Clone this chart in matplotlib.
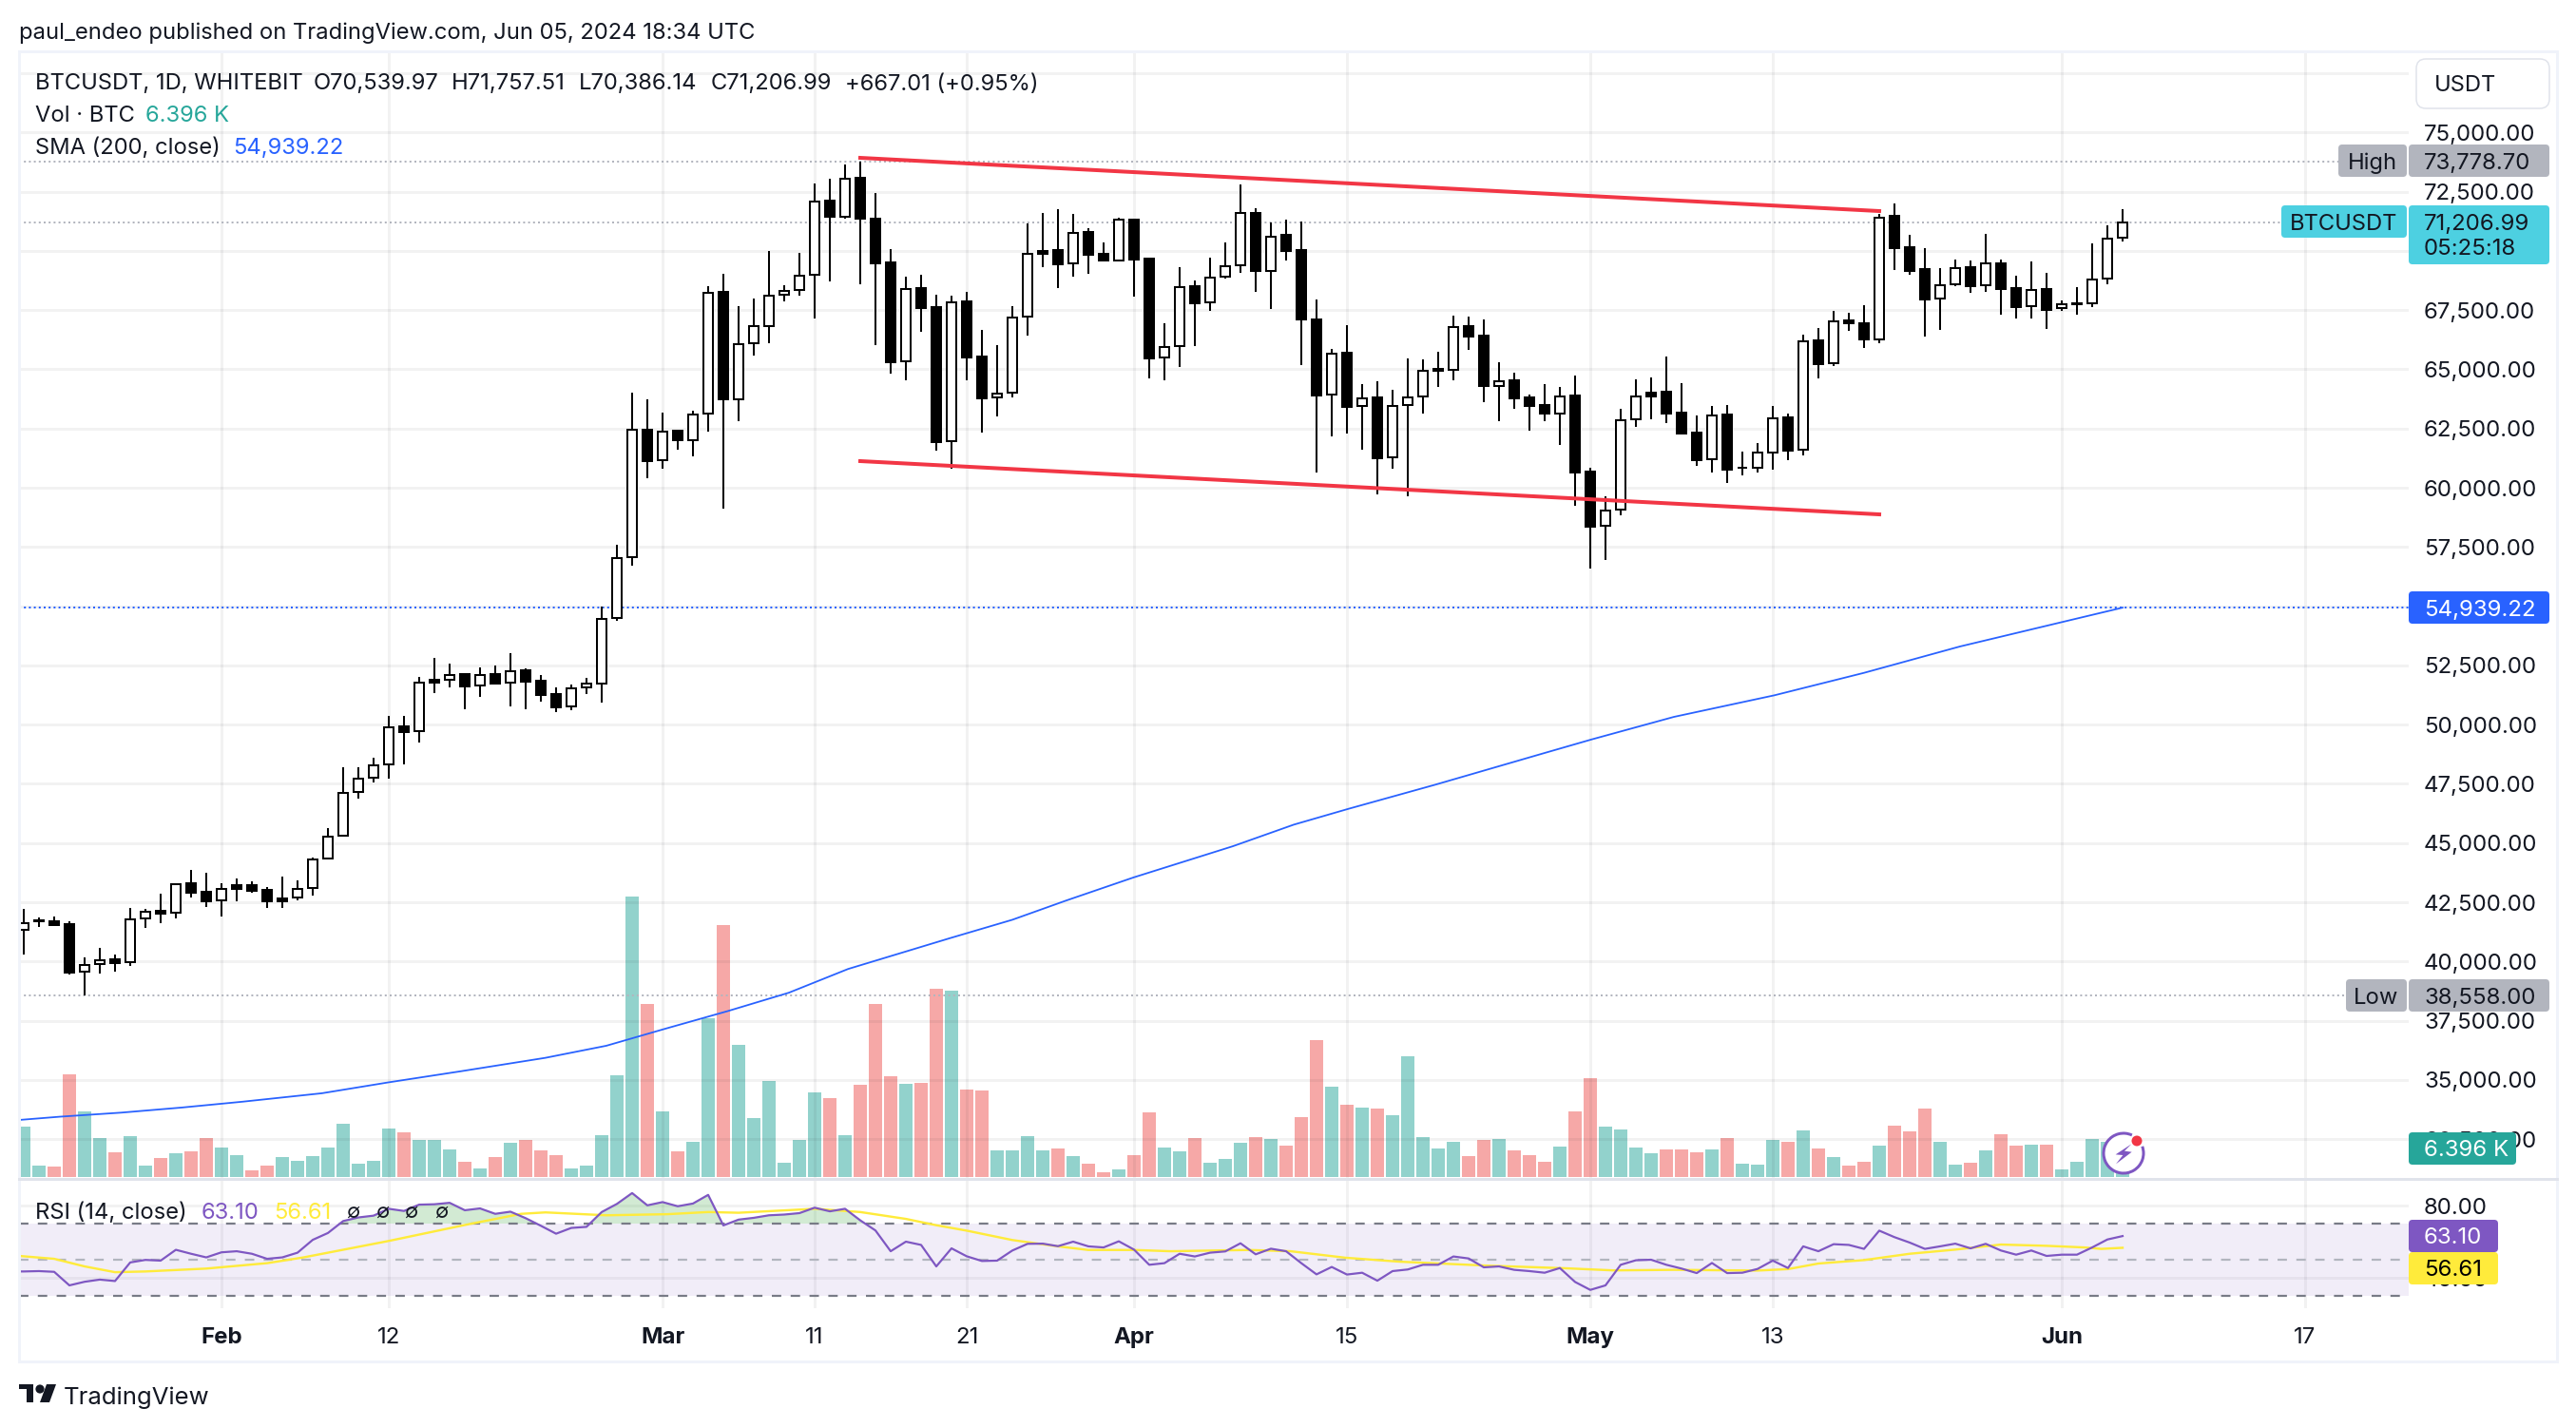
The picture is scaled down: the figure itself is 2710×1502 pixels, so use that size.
import numpy as np
import matplotlib
matplotlib.use('Agg')
import matplotlib.pyplot as plt
from matplotlib.patches import FancyBboxPatch, Rectangle, Circle, Polygon, Arc

plt.rcParams['font.family'] = ['Inter', 'DejaVu Sans']

# OHLC, one value per day starting Jan 19 2024
open_ = [41323, 41724, 41684, 41564, 39557, 39878, 40078, 39958, 41804, 42125,
         42045, 43290, 42928, 42567, 43209, 43209, 43009, 42674, 42687, 43102,
         44333, 45310, 47156, 47745, 48307, 49913, 49712, 51880, 51880, 52120,
         51639, 52120, 51759, 52281, 51839, 51277, 50756, 51558, 51732, 54502,
         57065, 62438, 61160, 62405, 61996, 63126, 68253, 63716, 66091, 66806,
         68131, 68345, 68987, 72105, 71449, 73068, 71369, 69496, 65321, 68412,
         67609, 61963, 67850, 65522, 63796, 63996, 67208, 69977, 70017, 69455,
         70780, 69857, 69576, 71302, 69656, 65495, 65963, 68492, 67810, 68907,
         69389, 71610, 69134, 70660, 70017, 67114, 63916, 65682, 63434, 63796,
         61267, 63488, 63836, 65000, 64960, 66806, 66405, 64277, 64518, 63796,
         63475, 63113, 63876, 60665, 58377, 59059, 62872, 63996, 64037, 63153,
         62311, 61187, 63073, 60852, 60825, 61481, 62953, 61588, 66204, 65241,
         67047, 66927, 66271, 71462, 70138, 69215, 67970, 68572, 69295, 68532,
         69455, 68412, 67649, 68372, 67569, 67796, 67770, 68813, 70539.97]
close = [41630, 41684, 41550, 39543, 39864, 40065, 39945, 41791, 42112, 42032,
         43276, 42915, 42554, 43075, 43075, 42995, 42554, 42554, 43075, 44320,
         45283, 47116, 47732, 48294, 49899, 49699, 51786, 51786, 52107, 51625,
         52107, 51746, 52268, 51826, 51264, 50742, 51545, 51719, 54475, 57033,
         62438, 61144, 62372, 61996, 63093, 68236, 63716, 66074, 66828, 68117,
         68318, 68947, 72091, 71449, 73055, 71369, 69482, 65308, 68398, 67596,
         61936, 67823, 65508, 63782, 63983, 67194, 69884, 69884, 69442, 70767,
         69843, 69589, 71302, 69643, 65468, 65936, 68479, 67796, 68880, 69348,
         71596, 69161, 70606, 70004, 67114, 63903, 65669, 63421, 63782, 61253,
         63461, 63822, 64946, 64946, 66793, 66391, 64304, 64505, 63782, 63461,
         63113, 63863, 60651, 58363, 59046, 62859, 63863, 63863, 63140, 62297,
         61173, 63060, 60772, 60825, 61481, 62939, 61575, 66191, 65227, 67034,
         66927, 66271, 71409, 70124, 69161, 67957, 68559, 69281, 68519, 69455,
         68398, 67636, 68358, 67515, 67756, 67756, 68800, 70526, 71206.99]
high = [42219, 41858, 41898, 41684, 40172, 40573, 40292, 42259, 42219, 42861,
        43290, 43865, 43744, 43290, 43504, 43383, 43142, 43584, 43423, 44387,
        45631, 48200, 48200, 48601, 50368, 50368, 52013, 52816, 52575, 52160,
        52415, 52495, 53017, 52375, 52094, 51572, 51692, 51973, 54970, 57573,
        64010, 63716, 63175, 62438, 63257, 68499, 69023, 67647, 67974, 69991,
        68546, 69910, 72827, 73028, 73643, 73779, 72426, 70058, 68907, 68987,
        68144, 68091, 68251, 66646, 66017, 67663, 71141, 71596, 71757, 71556,
        70954, 70339, 71382, 71329, 69696, 66940, 69308, 68733, 69710, 70352,
        72787, 71784, 71195, 71302, 71222, 67930, 65843, 66860, 64358, 64478,
        64117, 65441, 65401, 65736, 67261, 67221, 67101, 65294, 64853, 63916,
        64358, 64237, 64732, 60839, 59621, 63327, 64572, 64652, 65535, 64411,
        63033, 63461, 63488, 61521, 61882, 63448, 63127, 66458, 66726, 67462,
        67382, 67689, 71556, 71998, 70673, 70111, 69268, 69629, 69589, 70713,
        69629, 68947, 69549, 69067, 67903, 68465, 70312, 71074, 71757.51]
low = [40292, 41470, 41510, 39463, 38558, 39490, 39583, 39824, 41416, 41617,
       41818, 42701, 42299, 41898, 42540, 42902, 42259, 42259, 42594, 42781,
       44333, 45297, 46875, 47558, 47718, 48320, 49244, 51331, 51572, 50649,
       51170, 51692, 50769, 50649, 50970, 50528, 50608, 51291, 50930, 54400,
       56705, 60407, 60800, 61586, 61324, 62372, 59129, 62815, 65583, 66110,
       67877, 68117, 67141, 68720, 71355, 68599, 66030, 64826, 64532, 66579,
       61561, 60812, 64532, 62337, 63006, 63809, 66432, 69322, 68439, 68920,
       69027, 69549, 69576, 68064, 64612, 64532, 65094, 65977, 67475, 68840,
       69067, 68278, 67542, 69589, 65174, 60651, 62163, 62284, 61615, 59715,
       60812, 59635, 63127, 64237, 64532, 65816, 63608, 62806, 63327, 62404,
       62806, 61802, 59233, 56597, 56959, 58832, 62565, 62886, 62725, 62297,
       60919, 60638, 60210, 60518, 60638, 60758, 61160, 61361, 64612, 65134,
       66619, 65896, 66097, 69188, 68987, 66378, 66659, 68505, 68224, 68278,
       67301, 67141, 67141, 66699, 67462, 67301, 67622, 68586, 70386.14]

# volume in thousands of BTC
volume = [11.1, 2.6, 2.2, 22.5, 14.3, 8.5, 5.4, 9.0, 2.5, 4.2,
          5.2, 5.6, 8.5, 6.4, 4.8, 1.4, 2.5, 4.3, 3.5, 4.6,
          6.4, 11.6, 2.9, 3.5, 10.6, 9.8, 8.1, 8.1, 6.0, 3.3,
          1.8, 4.3, 7.5, 8.1, 5.9, 4.8, 1.8, 2.5, 9.1, 22.3,
          61.5, 38.0, 14.3, 5.6, 7.7, 34.7, 55.3, 29.0, 12.9, 21.1,
          3.1, 8.1, 18.5, 17.3, 9.1, 20.2, 38.0, 22.1, 20.4, 20.6,
          41.3, 40.9, 19.2, 19.0, 5.8, 5.8, 9.0, 5.8, 6.25, 4.6,
          2.9, 1.0, 1.7, 4.8, 14.2, 6.5, 5.6, 8.5, 3.1, 4.0,
          7.5, 8.75, 8.3, 6.9, 13.1, 30.0, 19.8, 15.8, 15.2, 15.0,
          13.5, 26.5, 8.75, 6.25, 7.7, 4.6, 8.1, 8.3, 5.8, 4.8,
          3.3, 6.7, 14.4, 21.7, 11.0, 10.4, 6.5, 5.2, 6.0, 6.0,
          5.4, 6.0, 8.5, 2.9, 2.7, 8.1, 7.7, 10.2, 6.25, 4.4,
          2.5, 3.3, 6.9, 11.25, 10.0, 15.0, 7.7, 2.7, 3.1, 5.8,
          9.4, 6.9, 7.1, 7.1, 1.7, 3.3, 8.3, 7.7, 6.396]
volume_dir = ("ggrrggrggr" "grrggrrggg" "gggggrgggr" "grgrrrgggg" "grgrggrggg"
              "gggrgrrrgr" "rgrrggggrg" "rrgrrggrgg" "grgrrrgrgr" "gggggrrgrr"
              "rgrrggggrr" "rgrgggrgrg" "rrgrrrggrg" "rrgrggggg")

rsi_prev = 43.5
rsi = [43.5, 43.7, 43.3, 35.8, 37.8, 39.0, 38.2, 48.5, 49.9, 49.5,
       55.5, 53.3, 51.3, 54.1, 54.7, 53.3, 50.5, 51.3, 53.9, 61.0,
       64.8, 71.4, 73.4, 74.4, 78.2, 77.0, 80.5, 80.7, 81.5, 77.4,
       78.4, 75.4, 76.6, 73.0, 68.8, 64.4, 67.6, 68.2, 76.4, 80.9,
       86.9, 80.1, 81.9, 79.6, 81.1, 85.9, 69.0, 72.2, 73.2, 74.6,
       75.0, 75.8, 78.8, 76.8, 78.2, 71.8, 66.2, 54.7, 60.0, 58.2,
       46.3, 56.3, 51.9, 49.3, 49.5, 55.1, 58.8, 58.9, 57.5, 60.0,
       57.4, 56.8, 60.2, 55.6, 47.2, 48.1, 53.3, 51.8, 53.9, 54.6,
       59.1, 53.0, 56.1, 54.7, 48.1, 41.9, 46.0, 41.8, 42.8, 38.4,
       43.7, 44.6, 47.2, 47.2, 51.8, 50.7, 45.8, 46.3, 44.4, 43.7,
       42.8, 45.4, 37.7, 33.3, 35.8, 47.2, 49.7, 50.0, 47.2, 45.1,
       42.6, 48.2, 42.6, 42.8, 44.9, 49.5, 45.4, 57.4, 54.7, 58.6,
       58.2, 56.0, 66.1, 62.5, 59.5, 56.0, 57.4, 58.9, 56.3, 58.8,
       55.1, 52.8, 55.1, 52.1, 52.8, 52.8, 56.8, 61.2, 63.10]

rsi_ma_days = [-0.31, 2, 4, 6, 8, 12, 16, 18.4, 24, 29.1, 32.7, 34.3, 38.3, 42.3, 45, 47,
               52, 55, 58, 60, 62, 65, 68, 70, 73, 75.4, 80.5, 83.3, 86.9, 90.5,
               96.3, 101.3, 104.5, 108.5, 114, 116, 118, 121, 124, 127, 130, 133,
               135.5, 136.6, 138]
rsi_ma = [52.1, 50.5, 46.3, 43.1, 43.5, 45.1, 48.1, 51.3, 60.4, 69.4, 75.4, 76.2, 74.6, 75.2, 76.4, 76.0,
          78.2, 76.4, 72.6, 69.1, 66.1, 60.9, 57.4, 55.4, 55.4, 54.7, 55.4, 54.7, 51.1, 48.9,
          46.7, 45.3, 44.1, 44.4, 44.0, 44.8, 47.9, 49.8, 53.3, 55.6, 58.4, 57.7,
          56.8, 56.0, 56.61]

sma_days = [-0.31, 2.4, 6.4, 10.4, 14.4, 19.6, 24, 28.7, 34.3, 38.3, 42.3, 46.3, 50.3, 54.2,
            60.9, 65, 68.5, 73, 79.5, 83.5, 87.1, 92.8, 99.7, 103.1, 108.5, 115.1, 121,
            127.3, 134.1, 138]
sma = [33314, 33453, 33623, 33839, 34086, 34441, 34903, 35366, 35937, 36446, 37187, 37912, 38684, 39687,
       40988, 41764, 42567, 43557, 44868, 45778, 46447, 47464, 48749, 49378, 50328, 51238, 52187,
       53298, 54342, 54939.22]

upper_days = [55, 122]
upper_line = [73925, 71678]
lower_days = [55, 122]
lower_line = [61124, 58876]

price_ticks = [32500 + 2500 * k for k in range(18)]
grid_top = 77500
rsi_ticks = [40, 80]
tick_days = [13, 24, 42, 52, 62, 73, 87, 103, 115, 134, 150]
tick_names = ['Feb', '12', 'Mar', '11', '21', 'Apr', '15', 'May', '13', 'Jun', '17']
months = ['Feb', 'Mar', 'Apr', 'May', 'Jun']

W, H = 2710, 1502
PX = 72 / 100  # one pixel in points
TXT = 17.1
DARK = '#131722'
GRID = '#131722'

fig = plt.figure(figsize=(W / 100, H / 100), dpi=100, facecolor='white')


def pane(l, t, r, b, z):
    return fig.add_axes([l / W, 1 - b / H, (r - l) / W, (b - t) / H], zorder=z)


days = np.arange(len(close))
xlim = (-0.3125, 156.8125)

# volume sits behind the price pane
ax_vol = pane(20, 54, 2534, 1239, 1)
bar_cols = ['#26A69A' if d == 'g' else '#EF5350' for d in volume_dir]
ax_vol.bar(days, volume, width=0.86, color=bar_cols, alpha=0.5, linewidth=0)
ax_vol.set_xlim(xlim)
ax_vol.set_ylim(-0.2, 246.7)
ax_vol.axis('off')

# price pane
ax = pane(20, 54, 2534, 1239, 2)
ax.patch.set_visible(False)
ax.set_xlim(xlim)
ax.set_ylim(30866, 78420)
ax.set_yticks(price_ticks + [grid_top])
ax.set_yticklabels([f'{p:,.2f}' for p in price_ticks] + [''])
ax.set_xticks(tick_days)
ax.set_xticklabels([])
ax.yaxis.tick_right()
ax.tick_params(axis='both', length=0)
ax.tick_params(axis='y', pad=16 * PX, labelsize=17.3, labelcolor=DARK)
for lab in ax.get_yticklabels():
    lab.set_va('center_baseline')
ax.grid(True, color=GRID, alpha=0.055, linewidth=3 * PX)
ax.set_axisbelow(True)
for s in ax.spines.values():
    s.set_visible(False)

ax.hlines(73778.70, xlim[0], 152.6, color='#B2B5BE', linewidth=2 * PX, linestyle=(0, (1, 1.6)))
ax.hlines(71206.99, xlim[0], 148.4, color='#B2B5BE', linewidth=2 * PX, linestyle=(0, (1, 1.6)))
ax.hlines(38558, xlim[0], 152.8, color='#B2B5BE', linewidth=2 * PX, linestyle=(0, (1, 1.6)))
ax.hlines(54939.22, xlim[0], xlim[1], color='#2962FF', linewidth=2 * PX, linestyle=(0, (1, 1.6)))

ax.plot(sma_days, sma, color='#2962FF', linewidth=1.8 * PX, zorder=3)

# candles
o = np.array(open_)
c = np.array(close)
up = c >= o
ax.vlines(days, low, high, color='black', linewidth=2 * PX, zorder=4)
ax.bar(days, np.abs(c - o), bottom=np.minimum(o, c), width=0.62,
       color=['white' if u else 'black' for u in up], edgecolor='black',
       linewidth=2 * PX, zorder=5)

ax.plot(upper_days, upper_line, color='#F23645', linewidth=4 * PX, zorder=6)
ax.plot(lower_days, lower_line, color='#F23645', linewidth=4 * PX, zorder=6)

# RSI pane
ax_rsi = pane(20, 1240, 2534, 1376, 2)
ax_rsi.set_xlim(xlim)
ax_rsi.set_ylim(23.16, 94.74)
ax_rsi.axhspan(30, 70, color='#7E57C2', alpha=0.1, linewidth=0)
ax_rsi.hlines([70, 30], xlim[0], xlim[1], color='#787B86', linewidth=2.2 * PX, linestyle=(0, (4.5, 4.5)))
ax_rsi.hlines(50, xlim[0], xlim[1], color='#B2B5BE', linewidth=2.2 * PX, linestyle=(0, (4.5, 4.5)))
rsi_arr = np.array(rsi)
ax_rsi.fill_between(days, 70, rsi_arr, where=rsi_arr >= 70, interpolate=True,
                    color='#4CAF50', alpha=0.25, linewidth=0)
ax_rsi.plot(rsi_ma_days, rsi_ma, color='#FFEB3B', linewidth=2.4 * PX, zorder=3)
ax_rsi.plot(np.r_[-1, days], np.r_[rsi_prev, rsi], color='#7E57C2', linewidth=2.2 * PX, zorder=4)
ax_rsi.set_yticks(rsi_ticks)
ax_rsi.set_yticklabels([f'{v:.2f}' for v in rsi_ticks])
ax_rsi.yaxis.tick_right()
ax_rsi.set_xticks(tick_days)
ax_rsi.set_xticklabels(tick_names)
ax_rsi.tick_params(axis='both', length=0)
ax_rsi.tick_params(axis='y', pad=16 * PX, labelsize=17.3, labelcolor=DARK)
ax_rsi.tick_params(axis='x', pad=20 * PX, labelsize=17.3, labelcolor=DARK)
for lab in ax_rsi.get_yticklabels():
    lab.set_va('center_baseline')
for lab in ax_rsi.get_xticklabels():
    if lab.get_text() in months:
        lab.set_fontweight('bold')
ax_rsi.grid(True, color=GRID, alpha=0.055, linewidth=3 * PX)
ax_rsi.set_axisbelow(True)
for s in ax_rsi.spines.values():
    s.set_visible(False)

# page furniture in pixel coordinates
top = fig.add_axes([0, 0, 1, 1], zorder=10)
top.set_xlim(0, W)
top.set_ylim(H, 0)
top.axis('off')
top.patch.set_visible(False)

top.add_patch(Rectangle((20, 54), 2670, 1378, fill=False, edgecolor='#F0F3FA', linewidth=3 * PX))
top.plot([20, 2690], [1239.5, 1239.5], color='#E0E3EB', linewidth=3 * PX)


def label(x, y, s, color=DARK, ha='left', weight='normal', size=TXT):
    top.text(x, y, s, color=color, ha=ha, va='center_baseline', fontsize=size, fontweight=weight)


def box(l, t, r, b, color, rad=4):
    top.add_patch(FancyBboxPatch((l + rad, t + rad), r - l - 2 * rad, b - t - 2 * rad,
                                 boxstyle=f'round,pad={rad},rounding_size={rad}',
                                 facecolor=color, edgecolor='none'))


label(20, 32, 'paul_endeo published on TradingView.com, Jun 05, 2024 18:34 UTC')
label(37, 86, 'BTCUSDT, 1D, WHITEBIT')
label(330, 86, 'O70,539.97')
label(475, 86, 'H71,757.51')
label(609, 86, 'L70,386.14')
label(748, 86, 'C71,206.99')
label(889, 86, '+667.01 (+0.95%)')
label(37, 120, 'Vol · BTC')
label(153, 120, '6.396 K', color='#26A69A')
label(37, 153, 'SMA (200, close)')
label(245, 153, '54,939.22', color='#2962FF')

label(37, 1273, 'RSI (14, close)')
label(212, 1273, '63.10', color='#7E57C2')
label(288, 1273, '56.61', color='#FFEB3B')
for xp in [364, 395, 425, 457]:
    label(xp, 1273, '∅', size=TXT - 2)

top.add_patch(FancyBboxPatch((2552, 72), 120, 32, boxstyle='round,pad=10,rounding_size=10',
                             facecolor='white', edgecolor='#E0E3EB', linewidth=1.5 * PX))
label(2561, 87, 'USDT')

GRAY = '#B2B5BE'
box(2460, 152, 2532, 186, GRAY)
box(2534, 152, 2682, 186, GRAY)
label(2496, 169, 'High', ha='center')
label(2550, 169, '73,778.70', size=17.3)

CYAN = '#4DD0E1'
box(2400, 216, 2532, 250, CYAN)
box(2534, 216, 2682, 278, CYAN)
label(2466, 233, 'BTCUSDT', ha='center')
label(2550, 233, '71,206.99', size=17.3)
label(2550, 260, '05:25:18', size=17.3)

box(2534, 622, 2682, 656, '#2962FF')
label(2550, 639, '54,939.22', color='white', size=17.3)

box(2468, 1030, 2532, 1064, GRAY)
box(2534, 1030, 2682, 1064, GRAY)
label(2500, 1047, 'Low', ha='center')
label(2550, 1047, '38,558.00', size=17.3)

box(2534, 1191, 2647, 1225, '#26A69A')
label(2550, 1208, '6.396 K', color='white', size=17.3)

box(2534, 1283, 2628, 1317, '#7E57C2')
label(2550, 1300, '63.10', color='white', size=17.3)
box(2534, 1317, 2628, 1351, '#FFEB3B')
label(2550, 1334, '56.61', color='black', size=17.3)

# lightning badge
top.add_patch(Circle((2234, 1213), 21, facecolor='white', edgecolor='none'))
top.add_patch(Arc((2234, 1213), 42, 42, theta1=-20, theta2=295, edgecolor='#7E57C2', linewidth=3 * PX))
bolt = np.array([[157, 100], [107, 133], [130, 135], [108, 163], [158, 125], [135, 122]]) / 3 + [2190, 1170]
top.add_patch(Polygon(bolt, facecolor='#7E57C2', edgecolor='none'))
top.add_patch(Circle((2248, 1200), 5.5, facecolor='#F23645', edgecolor='none'))

# TradingView logo
LOGO = '#131722'
top.add_patch(Polygon([[20, 1456], [35, 1456], [35, 1475], [28, 1475], [28, 1461], [20, 1461]], facecolor=LOGO, edgecolor='none'))
top.add_patch(Circle((42, 1461), 4.6, facecolor=LOGO, edgecolor='none'))
top.add_patch(Polygon([[49, 1456], [59, 1456], [52, 1475], [42, 1475]], facecolor=LOGO, edgecolor='none'))
label(67, 1468, 'TradingView', size=18.5)

fig.savefig('out.png', dpi=100, facecolor='white')
